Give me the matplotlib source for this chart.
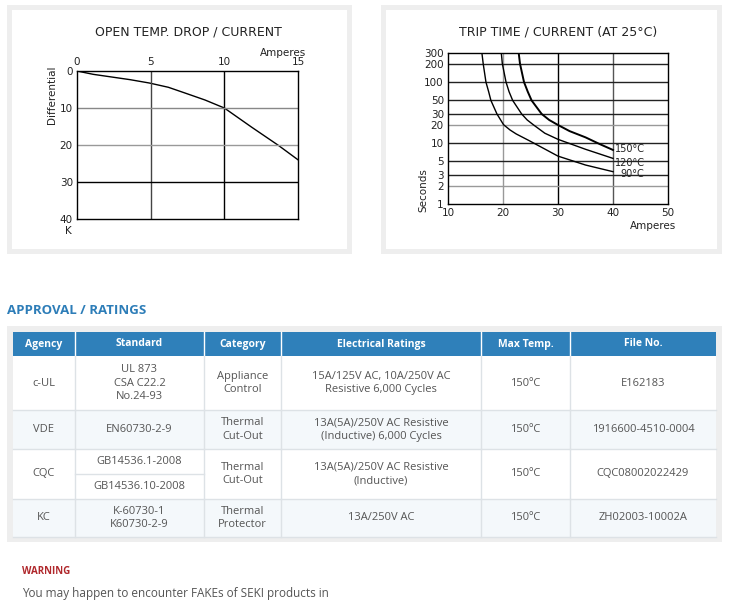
import matplotlib
matplotlib.use("Agg")
import matplotlib.pyplot as plt
from matplotlib.patches import Rectangle

W, H = 729, 604

# open temp. drop / current
drop_amps = [0, 1.1, 2.35, 3.6, 4.9, 6.2, 7.33, 8.69, 10, 11.86, 13.67, 15]
drop_k = [0, 0.9, 1.62, 2.34, 3.24, 4.4, 5.95, 7.84, 10, 15.2, 20.1, 24]
drop_xticks = [0, 5, 10, 15]
drop_yticks = [0, 10, 20, 30, 40]

# trip time / current (at 25C)
trip_curves = {
    "150°C": ([22.79, 23.09, 23.82, 24.5, 25.2, 27.03, 28.4, 29.9, 32.1, 35, 37.6, 40],
              [336, 200, 100, 69.6, 50, 30, 23.9, 20, 15.7, 12.4, 9.6, 7.7]),
    "120°C": ([19.64, 19.88, 20.55, 21.1, 21.76, 23.39, 24.4, 25.5, 27.6, 30, 35, 40],
              [336, 200, 100, 69.6, 50, 30, 23.9, 20, 14.5, 11.5, 7.9, 5.6]),
    "90°C": ([16.1, 16.4, 16.9, 17.39, 17.8, 18.9, 20.1, 21.27, 22.4, 24.8, 30, 35, 40],
             [336, 200, 100, 69.6, 50, 30, 20, 16.4, 14.1, 10.9, 6.1, 4.36, 3.39]),
}
trip_xticks = [10, 20, 30, 40, 50]
trip_yticks = [1, 2, 3, 5, 10, 20, 30, 50, 100, 200, 300]

# approval table
headers = ["Agency", "Standard", "Category", "Electrical Ratings", "Max Temp.", "File No."]
agencies = ["c-UL", "VDE", "CQC", "KC"]
standards = [["UL 873\nCSA C22.2\nNo.24-93"], ["EN60730-2-9"],
             ["GB14536.1-2008", "GB14536.10-2008"], ["K-60730-1\nK60730-2-9"]]
categories = ["Appliance\nControl", "Thermal\nCut-Out", "Thermal\nCut-Out", "Thermal\nProtector"]
ratings = ["15A/125V AC, 10A/250V AC\nResistive 6,000 Cycles",
           "13A(5A)/250V AC Resistive\n(Inductive) 6,000 Cycles",
           "13A(5A)/250V AC Resistive\n(Inductive)",
           "13A/250V AC"]
max_temps = ["150ºC", "150ºC", "150ºC", "150ºC"]
file_nos = ["E162183", "1916600-4510-0004", "CQC08002022429", "ZH02003-10002A"]


def px_axes(fig, x0, y0, x1, y1):
    return fig.add_axes([x0 / W, 1 - y1 / H, (x1 - x0) / W, (y1 - y0) / H])


def panel(bg, x0, y0, x1, y1):
    bg.add_patch(Rectangle((x0, y0), x1 - x0, y1 - y0, color="#eeeeee", lw=0))
    bg.add_patch(Rectangle((x0 + 5, y0 + 5), x1 - x0 - 10, y1 - y0 - 10, color="white", lw=0))


fig = plt.figure(figsize=(W / 100, H / 100), dpi=100)
bg = fig.add_axes([0, 0, 1, 1])
bg.set_xlim(0, W)
bg.set_ylim(H, 0)
bg.axis("off")

panel(bg, 7, 5, 352, 254)
panel(bg, 381, 5, 722, 254)

chart_font = "DejaVu Sans"
chart_c = "#222222"
tick_size = 7.5

# ---- left chart
ax = px_axes(fig, 77, 71, 298, 219)
ax.set_facecolor("none")
ax.plot(drop_amps, drop_k, color="black", lw=1)
ax.set_xlim(0, 15)
ax.set_ylim(40, 0)
ax.xaxis.tick_top()
ax.set_xticks(drop_xticks)
ax.set_yticks(drop_yticks)
ax.tick_params(length=0, labelsize=tick_size, pad=3, labelcolor=chart_c)
for v, c in zip([5, 10], ["#444444", "black"]):
    ax.axvline(v, color=c, lw=1)
for v, c in zip([10, 20, 30], ["#888888", "#999999", "black"]):
    ax.axhline(v, color=c, lw=1)
for s in ax.spines.values():
    s.set_linewidth(1)
bg.text(188, 32, "OPEN TEMP. DROP / CURRENT", ha="center", va="center",
        fontsize=9, family=chart_font, color=chart_c)
bg.text(283, 53, "Amperes", ha="center", va="center", fontsize=tick_size, color=chart_c)
bg.text(52, 95, "Differential", ha="center", va="center", rotation=90,
        fontsize=tick_size, color=chart_c)
bg.text(68, 231, "K", ha="center", va="center", fontsize=tick_size, color=chart_c)

# ---- right chart
ax2 = px_axes(fig, 448, 53, 668, 204)
ax2.set_facecolor("none")
ax2.set_yscale("log")
ax2.set_xlim(10, 50)
ax2.set_ylim(1, 300)
ax2.set_xticks(trip_xticks)
ax2.set_yticks(trip_yticks)
ax2.set_yticklabels([str(t) for t in trip_yticks])
ax2.minorticks_off()
ax2.tick_params(length=0, labelsize=tick_size, pad=3, labelcolor=chart_c)
for v, c in zip([20, 30, 40], ["#999999", "black", "#555555"]):
    ax2.axvline(v, color=c, lw=1)
hcol = {2: "#999999", 20: "#999999"}
for v in trip_yticks[1:-1]:
    ax2.axhline(v, color=hcol.get(v, "#222222"), lw=1)
for s in ax2.spines.values():
    s.set_linewidth(1)
label_off = {"150°C": (1.5, 0.5), "120°C": (1.5, -3), "90°C": (5, -1.5)}
for name, (xs, ys) in trip_curves.items():
    ax2.plot(xs, ys, color="black", lw=1.4 if name == "150°C" else 1)
    dx, dy = label_off[name]
    ax2.annotate(name, (xs[-1], ys[-1]), xytext=(dx, dy), textcoords="offset points",
                 ha="left", va="center", fontsize=7, color=chart_c)
bg.text(558, 32, "TRIP TIME / CURRENT (AT 25°C)", ha="center", va="center",
        fontsize=9, family=chart_font, color=chart_c)
bg.text(653, 226, "Amperes", ha="center", va="center", fontsize=tick_size, color=chart_c)
bg.text(423, 190, "Seconds", ha="center", va="center", rotation=90,
        fontsize=tick_size, color=chart_c)

# ---- approval table
tfont = "Open Sans"
bg.text(7, 310, "APPROVAL / RATINGS", ha="left", va="center", fontsize=9.5,
        fontweight="bold", color="#2d7db8", family=tfont)
bg.add_patch(Rectangle((7, 326), 715, 216, color="#eeeeee", lw=0))
col_x = [13, 75, 204, 281, 481, 570, 716]
row_y = [332, 356, 410, 449, 499, 537]
fills = ["white", "#f4f8fb", "white", "#f4f8fb"]
bg.add_patch(Rectangle((col_x[0], row_y[0]), col_x[-1] - col_x[0], row_y[1] - row_y[0],
                       color="#2f80ba", lw=0))
for j, h in enumerate(headers):
    bg.text((col_x[j] + col_x[j + 1]) / 2, (row_y[0] + row_y[1]) / 2, h, ha="center",
            va="center", fontsize=7.5, fontweight="bold", color="white", family=tfont)
    if j > 0:
        bg.plot([col_x[j]] * 2, [row_y[0], row_y[1]], color="white", lw=1)

line_c = "#dde2e6"
text_c = "#555555"
for i in range(len(agencies)):
    y0, y1 = row_y[i + 1], row_y[i + 2]
    bg.add_patch(Rectangle((col_x[0], y0), col_x[-1] - col_x[0], y1 - y0, color=fills[i], lw=0))
    cells = [agencies[i], None, categories[i], ratings[i], max_temps[i], file_nos[i]]
    for j, txt in enumerate(cells):
        cx = (col_x[j] + col_x[j + 1]) / 2
        if txt is None:
            parts = standards[i]
            step = (y1 - y0) / len(parts)
            for k, p in enumerate(parts):
                bg.text(cx, y0 + step * (k + 0.5), p, ha="center", va="center", fontsize=8,
                        color=text_c, family=tfont, linespacing=1.35)
                if k > 0:
                    bg.plot([col_x[j], col_x[j + 1]], [y0 + step * k] * 2, color=line_c, lw=1)
        else:
            bg.text(cx, (y0 + y1) / 2, txt, ha="center", va="center", fontsize=8,
                    color=text_c, family=tfont, linespacing=1.35, multialignment="center")
    bg.plot([col_x[0], col_x[-1]], [y1, y1], color=line_c, lw=1)
    for xv in col_x[1:-1]:
        bg.plot([xv, xv], [y0, y1], color=line_c, lw=1)

bg.text(22, 572, "WARNING", ha="left", va="center", fontsize=7, fontweight="bold",
        color="#b0282c", family=tfont)
bg.text(22, 593, "You may happen to encounter FAKEs of SEKI products in", ha="left",
        va="center", fontsize=8.5, color="#555555", family=tfont)

fig.savefig("out.png", dpi=100)
